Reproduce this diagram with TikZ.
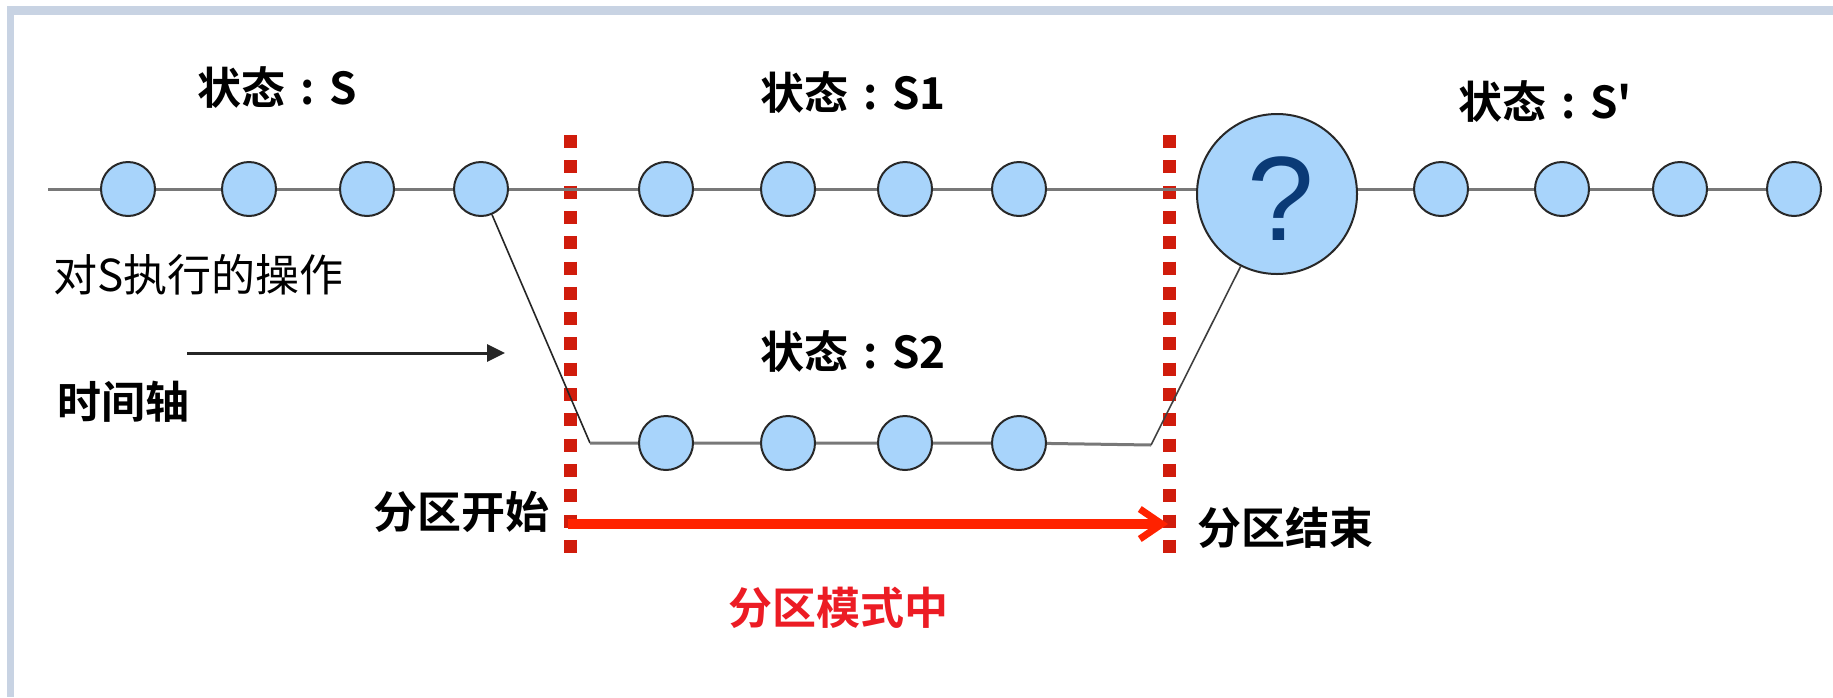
\documentclass[tikz,border=0pt]{standalone}
\usepackage{fontspec}
\usetikzlibrary{arrows.meta}
\newfontfamily\cjk{Noto Sans CJK SC}
\newfontfamily\cjkb{Noto Sans CJK SC Bold}
\newfontfamily\qfont{Liberation Sans}
\newcommand\fcolon{\makebox[1em][c]{:}}
\definecolor{frameblue}{RGB}{200,211,227}
\definecolor{dotred}{RGB}{208,28,12}
\definecolor{arrowred}{RGB}{255,34,0}
\definecolor{textred}{RGB}{236,28,36}
\definecolor{ballfill}{RGB}{168,212,251}
\definecolor{ballline}{RGB}{40,40,40}
\definecolor{glinecol}{RGB}{120,120,120}
\definecolor{qblue}{RGB}{10,58,118}
\tikzset{
  ball/.style={circle, fill=ballfill, draw=ballline, line width=2pt, minimum size=54pt, inner sep=0pt},
  bigball/.style={ball, minimum size=160pt},
  gline/.style={draw=glinecol, line width=3pt},
  bline/.style={draw=black!85, line width=1.6pt},
  dotline/.style={draw=dotred, line width=13pt, dash pattern=on 13pt off 12.3pt},
  lbl/.style={anchor=west, inner sep=0pt, font=\cjkb\fontsize{44}{50}\selectfont},
  lblr/.style={anchor=west, inner sep=0pt, font=\cjk\fontsize{44}{50}\selectfont},
}
\begin{document}
\begin{tikzpicture}[x=1pt,y=-1pt]
\useasboundingbox (0,0) rectangle (1833,697);
\fill[white] (0,0) rectangle (1833,697);
% frame
\fill[frameblue] (7,6) rectangle (1833,15);
\fill[frameblue] (7,6) rectangle (14,697);

% coordinates
\coordinate (s0) at (48,189);
\coordinate (k1) at (590,443);
\coordinate (k2) at (1151,445);
\coordinate (dt1) at (570,135);
\coordinate (db1) at (570,553);
\coordinate (dt2) at (1169,135);
\coordinate (db2) at (1169,553);
\coordinate (r1) at (568,524);
\coordinate (r2) at (1168,524);
\coordinate (t1) at (187,353);
\coordinate (t2) at (505,353);

% red dotted partition lines
\draw[dotline] (dt1) -- (db1);
\draw[dotline] (dt2) -- (db2);

% circles
\node[ball] (a1) at (128,189) {};
\node[ball] (a2) at (249,189) {};
\node[ball] (a3) at (367,189) {};
\node[ball] (a4) at (481,189) {};
\node[ball] (b1) at (666,189) {};
\node[ball] (b2) at (788,189) {};
\node[ball] (b3) at (905,189) {};
\node[ball] (b4) at (1019,189) {};
\node[bigball] (q) at (1277,194) {};
\node[font=\qfont\fontsize{120}{122}\selectfont, text=qblue, inner sep=0pt] (qm) at (1281,199) {?};
\node[ball] (c1) at (1441,189) {};
\node[ball] (c2) at (1562,189) {};
\node[ball] (c3) at (1680,189) {};
\node[ball] (c4) at (1794,189) {};
\node[ball] (d1) at (666,443) {};
\node[ball] (d2) at (788,443) {};
\node[ball] (d3) at (905,443) {};
\node[ball] (d4) at (1019,443) {};

% main time line
\draw[gline] (s0) -- (a1) (a1) -- (a2) (a2) -- (a3) (a3) -- (a4) (a4) -- (b1)
  (b1) -- (b2) (b2) -- (b3) (b3) -- (b4) (b4) -- (q.west |- b4);
\draw[gline] (q.east |- c1) -- (c1) (c1) -- (c2) (c2) -- (c3) (c3) -- (c4);
% partition branch
\draw[bline] (a4) -- (k1);
\draw[gline] (k1) -- (d1) (d1) -- (d2) (d2) -- (d3) (d3) -- (d4) (d4) -- (k2);
\draw[draw=black!75, line width=1.6pt] (k2) -- (q);

% arrows
\draw[black!85, line width=3pt, -{Triangle[length=18pt,width=17pt]}] (t1) -- (t2);
\draw[arrowred, line width=10pt, -{Straight Barb[length=22pt,width=30pt,line width=7pt]}] (r1) -- (r2);

% labels
\node[lbl] (ls) at (197,88) {状态\fcolon S};
\node[lbl] (ls1) at (760,93) {状态\fcolon S1};
\node[lbl] (ls2) at (1458,102) {状态\fcolon S'};
\node[lbl] (ls3) at (760,352) {状态\fcolon S2};
\node[lblr] (op) at (53,275) {对S执行的操作};
\node[lbl] (axis) at (57,402) {时间轴};
\node[lbl] (pstart) at (373,512) {分区开始};
\node[lbl] (pend) at (1197,528) {分区结束};
\node[lbl, text=textred] (pmode) at (728,608) {分区模式中};
\end{tikzpicture}
\end{document}
